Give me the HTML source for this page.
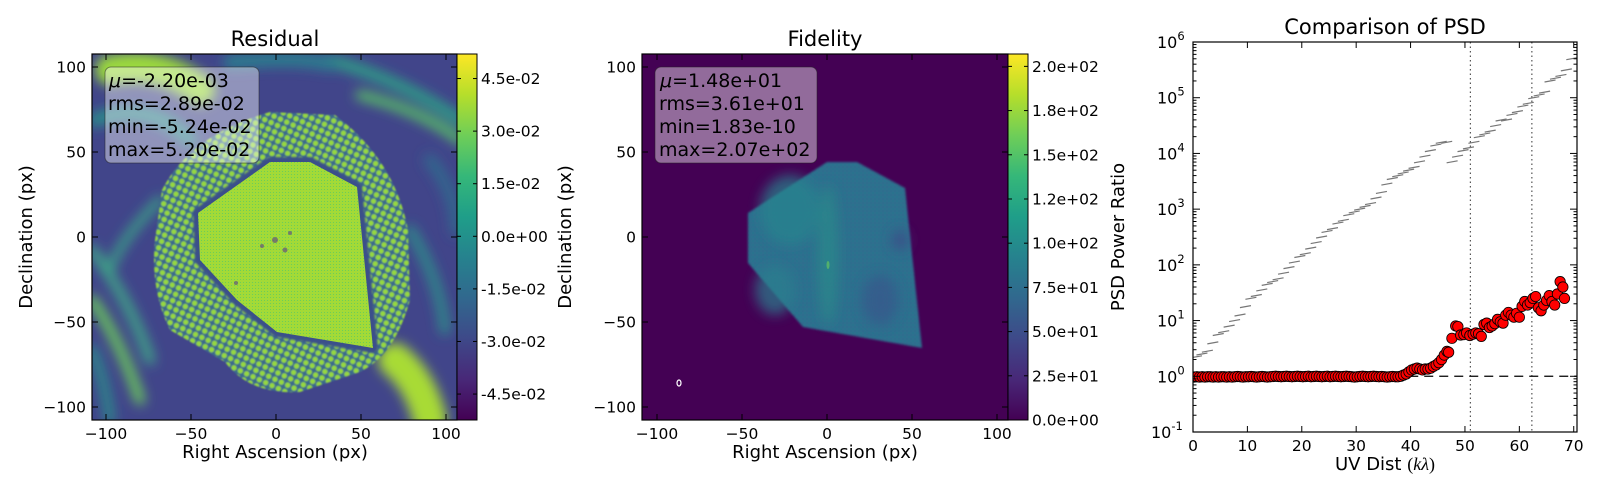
<!DOCTYPE html>
<html><head><meta charset="utf-8"><style>
html,body{margin:0;padding:0;background:#fff;}
svg{display:block;font-family:"DejaVu Sans","Liberation Sans",sans-serif;}
</style></head><body>
<svg id="fig" width="1600" height="500" viewBox="0 0 1600 500" xmlns="http://www.w3.org/2000/svg">
<defs>
<linearGradient id="viridis" x1="0" y1="1" x2="0" y2="0">
<stop offset="0" stop-color="#440154"/><stop offset="0.111" stop-color="#482878"/><stop offset="0.222" stop-color="#3e4989"/><stop offset="0.333" stop-color="#31688e"/><stop offset="0.444" stop-color="#26828e"/><stop offset="0.555" stop-color="#1f9e89"/><stop offset="0.666" stop-color="#35b779"/><stop offset="0.777" stop-color="#6ece58"/><stop offset="0.888" stop-color="#b5de2b"/><stop offset="1" stop-color="#fde725"/>
</linearGradient>
<filter id="b6"><feGaussianBlur stdDeviation="6"/></filter>
<filter id="b3"><feGaussianBlur stdDeviation="3"/></filter>
<filter id="b1"><feGaussianBlur stdDeviation="1"/></filter>
<filter id="b07"><feGaussianBlur stdDeviation="0.7"/></filter>
<pattern id="dots" width="7" height="7" patternUnits="userSpaceOnUse" patternTransform="rotate(25)">
<rect width="7" height="7" fill="#3b6a8c"/><circle cx="3.5" cy="3.5" r="2.7" fill="#95d840"/>
</pattern>
<pattern id="fine" width="3" height="3" patternUnits="userSpaceOnUse">
<rect width="3" height="3" fill="#a3da37"/><rect width="1" height="1" fill="#6ccd5a"/>
</pattern>
<pattern id="fidtex" width="4" height="4" patternUnits="userSpaceOnUse">
<rect width="4" height="4" fill="#2f6a8e"/><rect width="2" height="2" fill="#2a7f8e"/>
</pattern>
<clipPath id="c1"><rect x="92" y="54" width="365" height="366"/></clipPath>
<clipPath id="c2"><rect x="642" y="54" width="366" height="366"/></clipPath>
<clipPath id="c3"><rect x="1193" y="42" width="384" height="390"/></clipPath>
</defs>

<!-- Panel 1: Residual -->
<g>
<text x="275" y="46" font-size="21" text-anchor="middle">Residual</text>
<g clip-path="url(#c1)">
<rect x="92" y="54" width="365" height="366" fill="#41458a"/>
<g filter="url(#b6)" fill="none" stroke-linecap="round">
<path d="M110 70 Q160 60 200 90" stroke="#9bd93c" stroke-width="30"/>
<path d="M95 120 Q150 100 190 140" stroke="#2a8c8a" stroke-width="14"/>
<path d="M330 60 Q400 80 460 120" stroke="#2f9b86" stroke-width="12"/>
<path d="M360 95 Q420 110 460 140" stroke="#5ac864" stroke-width="9"/>
<path d="M230 62 Q300 56 330 64" stroke="#2c7f8e" stroke-width="14"/>
<path d="M92 250 Q130 300 150 360" stroke="#3fa686" stroke-width="10"/>
<path d="M92 300 Q120 340 140 400" stroke="#6ccd5a" stroke-width="10"/>
<path d="M92 350 Q105 380 110 420" stroke="#2a8c8a" stroke-width="10"/>
<path d="M395 360 Q420 380 430 420" stroke="#a8db34" stroke-width="34"/>
<path d="M410 230 Q440 280 445 330" stroke="#2e8d8a" stroke-width="10"/>
<path d="M430 160 Q455 190 457 230" stroke="#31688e" stroke-width="12"/>
<path d="M160 200 Q120 240 110 270" stroke="#3aa586" stroke-width="8"/>
</g>
<path d="M270 112 L335 115 Q395 160 408 230 L410 300 Q395 355 360 372 L300 392 Q250 395 225 362 L170 330 Q150 290 155 240 L162 190 Q190 135 270 112 Z" fill="url(#dots)" filter="url(#b07)"/>
<polygon points="198,213 270,162 310,162 357,187 373,348 277,332 237,300 200,260" fill="none" stroke="#3b4f8a" stroke-width="10" stroke-linejoin="round" filter="url(#b1)"/>
<polygon points="198,213 270,162 310,162 357,187 373,348 277,332 237,300 200,260" fill="url(#fine)"/>
<g fill="#5a3f87" opacity="0.6"><circle cx="275" cy="240" r="3"/><circle cx="285" cy="250" r="2.5"/><circle cx="262" cy="246" r="2"/><circle cx="290" cy="233" r="2"/><circle cx="236" cy="283" r="2"/></g>
<rect x="105" y="67" width="154" height="96" rx="6" fill="#ffffff" fill-opacity="0.42" stroke="#222" stroke-opacity="0.5"/>
<g font-size="19" fill="#000">
<text x="109" y="87"><tspan font-style="italic">μ</tspan>=-2.20e-03</text>
<text x="108" y="110">rms=2.89e-02</text>
<text x="108" y="133">min=-5.24e-02</text>
<text x="108" y="156">max=5.20e-02</text>
</g>
</g>
<rect x="92" y="54" width="365" height="366" fill="none" stroke="#000" stroke-width="1.2"/>
<rect x="457" y="54" width="20" height="366" fill="url(#viridis)" stroke="#000" stroke-width="1"/>
<g id="ax1"></g>
<text x="275" y="458" font-size="18" text-anchor="middle">Right Ascension (px)</text>
<text transform="translate(32,237) rotate(-90)" font-size="18" text-anchor="middle">Declination (px)</text>
</g>

<!-- Panel 2: Fidelity -->
<g>
<text x="825" y="46" font-size="21" text-anchor="middle">Fidelity</text>
<g clip-path="url(#c2)">
<rect x="642" y="54" width="366" height="366" fill="#440154"/>
<polygon points="748,213 748,263 803,327 922,348 905,188 857,162 827,162" fill="url(#fidtex)" filter="url(#b1)"/>
<g filter="url(#b6)" opacity="0.7">
<ellipse cx="790" cy="210" rx="30" ry="35" fill="#27858e"/>
<ellipse cx="828" cy="255" rx="10" ry="70" fill="#2a8c8a"/>
<ellipse cx="775" cy="290" rx="20" ry="25" fill="#2c7f8e"/>
<ellipse cx="900" cy="240" rx="8" ry="10" fill="#414487"/>
<ellipse cx="880" cy="300" rx="18" ry="25" fill="#39568c"/>
</g>
<ellipse cx="828" cy="265" rx="1.5" ry="4" fill="#6ece58" opacity="0.6"/>
<ellipse cx="679" cy="383" rx="2" ry="3" fill="none" stroke="#fff" stroke-width="1.2"/>
<rect x="655" y="67" width="162" height="96" rx="6" fill="#ffffff" fill-opacity="0.42" stroke="#222" stroke-opacity="0.5"/>
<g font-size="19" fill="#000">
<text x="660" y="87"><tspan font-style="italic">μ</tspan>=1.48e+01</text>
<text x="659" y="110">rms=3.61e+01</text>
<text x="659" y="133">min=1.83e-10</text>
<text x="659" y="156">max=2.07e+02</text>
</g>
</g>
<rect x="642" y="54" width="366" height="366" fill="none" stroke="#000" stroke-width="1.2"/>
<rect x="1008" y="54" width="20" height="366" fill="url(#viridis)" stroke="#000" stroke-width="1"/>
<g id="ax2"></g>
<text x="825" y="458" font-size="18" text-anchor="middle">Right Ascension (px)</text>
<text transform="translate(571,237) rotate(-90)" font-size="18" text-anchor="middle">Declination (px)</text>
</g>

<!-- Panel 3: PSD -->
<g>
<text x="1385" y="34" font-size="21" text-anchor="middle">Comparison of PSD</text>
<g id="psd" clip-path="url(#c3)"></g>
<rect x="1193" y="42" width="384" height="390" fill="none" stroke="#000" stroke-width="1.2"/>
<g id="ax3"></g>
<text x="1385" y="470" font-size="18" text-anchor="middle">UV Dist <tspan font-family="Liberation Serif,serif">(<tspan font-style="italic">kλ</tspan>)</tspan></text>
<text transform="translate(1124,237) rotate(-90)" font-size="18" text-anchor="middle">PSD Power Ratio</text>
</g>
</svg>
<script>
// ---- chart data ----
const imgTicks = [-100, -50, 0, 50, 100];
const resCbarTicks = [0.045, 0.03, 0.015, 0, -0.015, -0.03, -0.045];
const resCbarLabels = ["4.5e-02","3.0e-02","1.5e-02","0.0e+00","-1.5e-02","-3.0e-02","-4.5e-02"];
const fidCbarTicks = [200, 175, 150, 125, 100, 75, 50, 25, 0];
const fidCbarLabels = ["2.0e+02","1.8e+02","1.5e+02","1.2e+02","1.0e+02","7.5e+01","5.0e+01","2.5e+01","0.0e+00"];
const psdXTicks = [0, 10, 20, 30, 40, 50, 60, 70];
const psdYExps = [-1, 0, 1, 2, 3, 4, 5, 6];
const vLines = [51.0, 62.3];
const refLevel = 1;
const uvGrey = [0,1,2,3,4,5,6,7,8,9,10,11,12,13,14,15,16,17,18,19,20,21,22,23,24,25,26,27,28,29,30,31,32,33,34,35,36,37,38,39,40,41,42,43,44,45,46,47,48,49,50,51,52,53,54,55,56,57,58,59,60,61,62,63,64,65,66,67,68,69];
const greyLog = [0.35,0.4,0.45,0.6,0.75,0.8,0.9,1.0,1.1,1.25,1.4,1.45,1.55,1.65,1.7,1.75,1.85,1.95,2.05,2.15,2.2,2.3,2.4,2.5,2.6,2.65,2.75,2.8,2.9,2.95,3.0,3.05,3.1,3.2,3.3,3.45,3.55,3.6,3.65,3.7,3.75,3.85,3.95,4.05,4.15,4.2,4.2,3.85,3.95,4.05,4.1,4.2,4.3,4.35,4.4,4.5,4.6,4.6,4.7,4.75,4.85,4.9,5.0,5.05,5.1,5.3,5.35,5.4,5.5,5.7];
const uvRed = [0.2,0.7,1.2,1.7,2.2,2.7,3.2,3.7,4.2,4.7,5.2,5.7,6.2,6.7,7.2,7.7,8.2,8.7,9.2,9.7,10.2,10.7,11.2,11.7,12.2,12.7,13.2,13.7,14.2,14.7,15.2,15.7,16.2,16.7,17.2,17.7,18.2,18.7,19.2,19.7,20.2,20.7,21.2,21.7,22.2,22.7,23.2,23.7,24.2,24.7,25.2,25.7,26.2,26.7,27.2,27.7,28.2,28.7,29.2,29.7,30.2,30.7,31.2,31.7,32.2,32.7,33.2,33.7,34.2,34.7,35.2,35.7,36.2,36.7,37.2,37.7,38.2,38.7,39.2,39.7,40.2,40.7,41.2,41.7,42.2,42.7,43.2,43.7,44.2,44.7,45.2,45.7,46.2,46.7,47.0,47.6,48.3,48.7,49.2,49.8,50.3,50.9,51.5,52.0,52.5,53.0,53.5,54.0,54.5,55.0,55.5,56.0,56.5,57.0,57.5,58.0,58.5,59.0,59.5,60.0,60.5,61.0,61.5,62.0,62.5,63.0,63.5,64.0,64.5,65.0,65.5,66.0,66.5,67.0,67.5,68.0,68.3,68.6];
const psdRed = [0.97,0.98,0.97,0.98,0.97,0.98,0.98,0.97,0.98,0.97,0.98,0.98,0.97,0.98,0.97,0.98,0.99,0.98,0.97,0.98,0.98,0.99,0.98,0.97,0.98,0.99,0.98,0.97,0.98,0.99,1.0,0.99,0.98,0.99,1.0,0.99,0.98,0.99,1.0,0.99,0.98,0.99,1.0,0.98,0.99,1.0,0.99,0.98,0.99,1.0,0.98,0.99,1.0,0.99,0.98,0.99,1.0,0.99,0.98,0.97,0.98,0.99,1.0,0.99,0.98,0.99,1.0,0.99,0.98,0.99,0.98,0.97,0.98,0.99,0.98,0.98,1.0,1.05,1.1,1.2,1.3,1.35,1.4,1.35,1.3,1.35,1.35,1.4,1.5,1.6,1.75,2.0,2.4,2.8,2.7,4.8,8.0,7.8,5.5,5.6,6.0,5.4,5.7,6.0,5.8,5.2,8.5,9.0,7.5,8.0,8.8,10.5,9.5,9.0,12.5,14.0,12.5,11.5,13.5,11.5,18.0,22.0,19.0,21.0,25.0,27.0,17.0,15.0,19.0,23.0,28.0,22.0,19.0,30.0,50.0,40.0,25.0];

const NS = "http://www.w3.org/2000/svg";
function mk(parent, tag, attrs, txt) {
  const e = document.createElementNS(NS, tag);
  for (const k in attrs) e.setAttribute(k, attrs[k]);
  if (txt !== undefined) e.textContent = txt;
  parent.appendChild(e);
  return e;
}

function imageAxes(gid, x0, cx, cbx, ticksVals, tickLabels, vmin, vmax) {
  const g = document.getElementById(gid);
  const sx = v => cx + v * 1.7;
  const sy = v => 237 - v * 1.7;
  const L = x0, R = cbx, T = 54, B = 420;
  imgTicks.forEach(v => {
    const x = sx(v), y = sy(v);
    mk(g, "line", {x1: x, y1: B, x2: x, y2: B - 6, stroke: "#000"});
    mk(g, "line", {x1: x, y1: T, x2: x, y2: T + 6, stroke: "#000"});
    mk(g, "line", {x1: L, y1: y, x2: L + 6, y2: y, stroke: "#000"});
    mk(g, "line", {x1: R, y1: y, x2: R - 6, y2: y, stroke: "#000"});
    const lab = (v < 0 ? "\u2212" + (-v) : "" + v);
    const tx = mk(g, "text", {x: x, y: B + 19, "font-size": 15.5, "text-anchor": "middle"}, lab);
    
    
    const ty = mk(g, "text", {x: L - 6, y: y + 5.5, "font-size": 15.5, "text-anchor": "end"}, lab);
    
    
  });
  const cy = v => 420 - (v - vmin) / (vmax - vmin) * 366;
  ticksVals.forEach((v, i) => {
    const y = cy(v);
    mk(g, "line", {x1: cbx, y1: y, x2: cbx + 4, y2: y, stroke: "#000"});
    mk(g, "line", {x1: cbx + 20, y1: y, x2: cbx + 16, y2: y, stroke: "#000"});
    const t = mk(g, "text", {x: cbx + 24, y: y + 5.5, "font-size": 15.5}, tickLabels[i]);
    
    
  });
}
imageAxes("ax1", 92, 276, 457, resCbarTicks, resCbarLabels, -0.0524, 0.052);
imageAxes("ax2", 642, 827, 1008, fidCbarTicks, fidCbarLabels, 0, 207);

const X0 = 1193, X1 = 1577, Y0 = 432, Y1 = 42;
const xs = v => X0 + v / 70.6 * (X1 - X0);
const ys = lg => Y0 - (lg + 1) / 7 * (Y0 - Y1);
const ax3 = document.getElementById("ax3");
psdXTicks.forEach(v => {
  const x = xs(v);
  mk(ax3, "line", {x1: x, y1: Y0, x2: x, y2: Y0 - 6, stroke: "#000"});
  mk(ax3, "line", {x1: x, y1: Y1, x2: x, y2: Y1 + 6, stroke: "#000"});
  const t = mk(ax3, "text", {x: x, y: Y0 + 19, "font-size": 15.5, "text-anchor": "middle"}, "" + v);
  
  
});
psdYExps.forEach(e => {
  const y = ys(e);
  mk(ax3, "line", {x1: X0, y1: y, x2: X0 + 7, y2: y, stroke: "#000"});
  mk(ax3, "line", {x1: X1, y1: y, x2: X1 - 7, y2: y, stroke: "#000"});
  if (e < 6) {
    for (let m = 2; m < 10; m++) {
      const yy = ys(e + Math.log10(m));
      mk(ax3, "line", {x1: X0, y1: yy, x2: X0 + 3.5, y2: yy, stroke: "#000"});
      mk(ax3, "line", {x1: X1, y1: yy, x2: X1 - 3.5, y2: yy, stroke: "#000"});
    }
  }
  const lab = "" + e;
  const t = mk(ax3, "text", {x: X0 - 36 - (lab.length > 1 ? 6 : 0), y: y + 6, "font-size": 16}, "10");
  
  
  mk(t, "tspan", {dy: -8, "font-size": 11.5}, lab);
});

const psd = document.getElementById("psd");
vLines.forEach(v => {
  const l = mk(psd, "line", {x1: xs(v), y1: Y1, x2: xs(v), y2: Y0, stroke: "#555", "stroke-width": 1.2, "stroke-dasharray": "1.5,3"});
  
  
});
const ref = mk(psd, "line", {x1: xs(37), y1: ys(Math.log10(refLevel)), x2: X1, y2: ys(Math.log10(refLevel)), stroke: "#000", "stroke-width": 1.3, "stroke-dasharray": "9,6"});


uvGrey.forEach((u, i) => {
  const x = xs(u), y = ys(greyLog[i]);
  const d = mk(psd, "line", {x1: x - 2, y1: y + 1, x2: x + 9, y2: y - 1, stroke: "#777", "stroke-width": 1.2});
  
  
});
uvRed.forEach((u, i) => {
  const c = mk(psd, "circle", {cx: xs(u), cy: ys(Math.log10(psdRed[i])), r: 5.2, fill: "#ff0000", stroke: "#000", "stroke-width": 0.8});
  
  
});
</script>
</body></html>
